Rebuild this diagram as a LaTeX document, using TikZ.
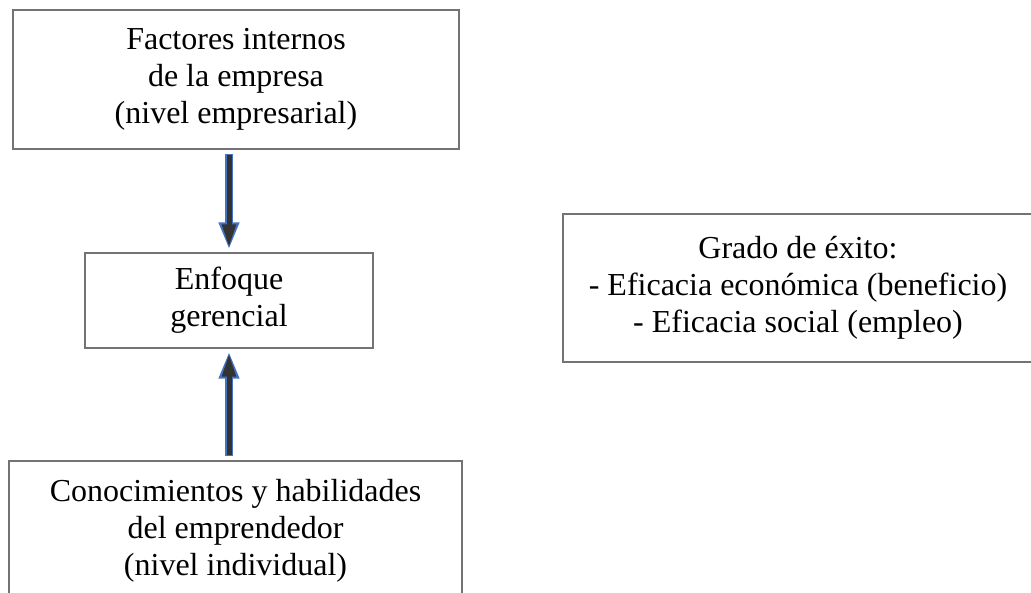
\documentclass[tikz,border=0pt]{standalone}
\usepackage{fontspec}
\setmainfont{Liberation Serif}
\usetikzlibrary{arrows.meta}
\definecolor{arrowcore}{HTML}{333333}
\definecolor{arrowedge}{HTML}{4472C4}
\tikzstyle{factorbox} = [draw=black!55, line width=1.2pt, align=center, inner sep=0pt,
    font=\fontsize{32}{37}\selectfont]
\tikzstyle{edgearrow} = [draw=arrowedge, line width=8pt, -{Triangle[length=27pt,width=19pt]}]
\tikzstyle{corearrow} = [draw=arrowcore, line width=5pt, -{Triangle[length=23pt,width=13pt]}]
\newcommand{\flowarrow}[2]{
    \draw[edgearrow, shorten <=4pt, shorten >=3pt] (#1) -- (#2);
    \draw[corearrow, shorten <=5.5pt, shorten >=5pt] (#1) -- (#2);
}

\begin{document}
\begin{tikzpicture}[x=1pt,y=-1pt]
	\useasboundingbox (0,0) rectangle (1031,592);
	
	\node(internos) at (236,79.5) [factorbox, minimum width=446pt, minimum height=139pt]
	    {Factores internos\\de la empresa\\(nivel empresarial)};
	\node(enfoque) at (229,300.5) [factorbox, minimum width=288pt, minimum height=95pt]
	    {Enfoque\\gerencial};
	\node(conocimientos) at (235.5,530.5) [factorbox, minimum width=453pt, minimum height=139pt]
	    {Conocimientos y habilidades\\del emprendedor\\(nivel individual)};
	\node(exito) at (798,288) [factorbox, minimum width=470pt, minimum height=148pt]
	    {Grado de éxito:\\- Eficacia económica (beneficio)\\- Eficacia social (empleo)};
	
	\flowarrow{enfoque.north |- internos.south}{enfoque.north};
	\flowarrow{enfoque.south |- conocimientos.north}{enfoque.south};
\end{tikzpicture}
\end{document}
